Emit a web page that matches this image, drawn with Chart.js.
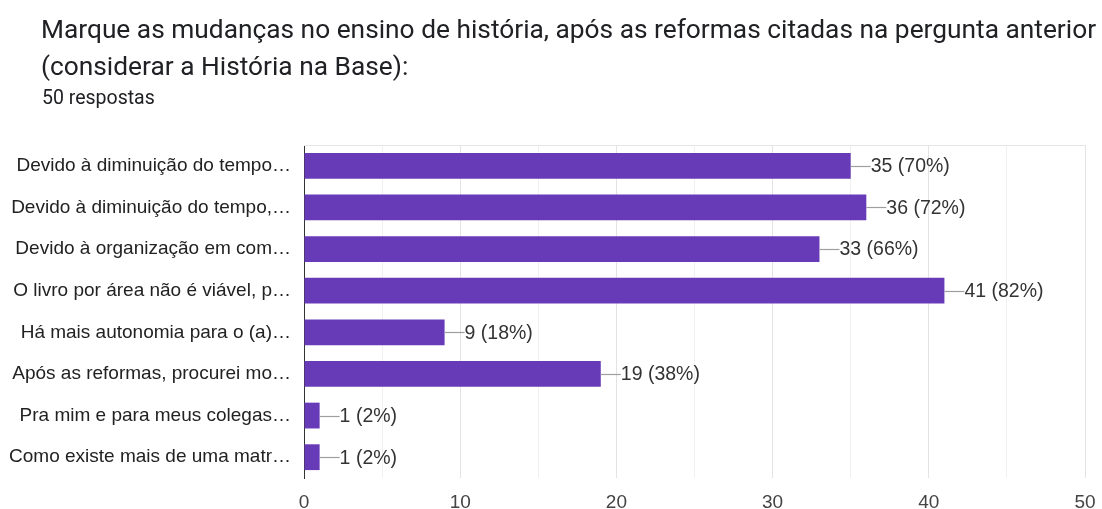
<!DOCTYPE html>
<html>
<head>
<meta charset="utf-8">
<script src="https://cdn.jsdelivr.net/npm/chart.js@4"></script>
<style>
  html, body { margin: 0; padding: 0; background: #fff; }
  #wrap { position: relative; width: 1102px; height: 509px; overflow: hidden; }
  #chart { position: absolute; left: 0; top: 0; }
  .title { position: absolute; left: 41px; font-family: Roboto, sans-serif; color: #202124; font-size: 26.3px; white-space: nowrap; }
  .sub { position: absolute; left: 42px; top: 86px; font-family: Roboto, sans-serif; color: #202124; font-size: 19.5px; }
</style>
</head>
<body>
<div id="wrap">
  <canvas id="chart" width="1102" height="509"></canvas>
  <div class="title" style="top:14px">Marque as mudanças no ensino de história, após as reformas citadas na pergunta anterior</div>
  <div class="title" style="top:51px">(considerar a História na Base):</div>
  <div class="sub">50 respostas</div>
</div>
<script>
// options shown in the form (labels truncated like the original)
const categories = [
    'Devido à diminuição do tempo…',
    'Devido à diminuição do tempo,…',
    'Devido à organização em com…',
    'O livro por área não é viável, p…',
    'Há mais autonomia para o (a)…',
    'Após as reformas, procurei mo…',
    'Pra mim e para meus colegas…',
    'Como existe mais de uma matr…'
];
const counts = [35, 36, 33, 41, 9, 19, 1, 1];
const totalAnswers = 50;
const xTicks = [0, 10, 20, 30, 40, 50];

const barColor = '#673ab7';
const labelFont = '"Liberation Sans", Arial, sans-serif';

// value labels with a short leader line, like google forms
const leaderLabels = {
    id: 'leaderLabels',
    afterDatasetsDraw(chart) {
        const ctx = chart.ctx;
        const meta = chart.getDatasetMeta(0);
        ctx.save();
        ctx.font = '19.5px ' + labelFont;
        ctx.textBaseline = 'middle';
        meta.data.forEach(function(bar, i) {
            const v = counts[i];
            const pct = Math.round(v / totalAnswers * 100);
            ctx.strokeStyle = '#9e9e9e';
            ctx.lineWidth = 1.2;
            ctx.beginPath();
            ctx.moveTo(bar.x, Math.round(bar.y) + 0.5);
            ctx.lineTo(bar.x + 20, Math.round(bar.y) + 0.5);
            ctx.stroke();
            ctx.fillStyle = '#333';
            ctx.fillText(v + ' (' + pct + '%)', bar.x + 20, bar.y + 1);
        });
        ctx.restore();
    }
};

// light frame on top of the plot area
const frame = {
    id: 'frame',
    beforeDatasetsDraw(chart) {
        const a = chart.chartArea;
        const ctx = chart.ctx;
        ctx.save();
        ctx.strokeStyle = '#e6e6e6';
        ctx.lineWidth = 1;
        ctx.beginPath();
        ctx.moveTo(a.left, a.top + 0.5);
        ctx.lineTo(a.right, a.top + 0.5);
        ctx.stroke();
        ctx.restore();
    }
};

new Chart(document.getElementById('chart').getContext('2d'), {
    type: 'bar',
    data: {
        labels: categories,
        datasets: [{
            data: counts,
            backgroundColor: barColor,
            barPercentage: 0.62,
            categoryPercentage: 1
        }]
    },
    options: {
        indexAxis: 'y',
        responsive: false,
        animation: false,
        layout: { padding: { top: 145, right: 17, left: 0, bottom: 0 } },
        plugins: { legend: { display: false }, tooltip: { enabled: false } },
        scales: {
            x: {
                min: 0,
                max: 50,
                afterBuildTicks: function(axis) {
                    const all = [];
                    for (let i = 0; i < xTicks.length; i++) {
                        all.push({ value: xTicks[i] });
                        if (i < xTicks.length - 1) all.push({ value: (xTicks[i] + xTicks[i + 1]) / 2 });
                    }
                    axis.ticks = all;
                },
                afterFit: function(axis) {
                    axis.height = 31;
                    axis.paddingLeft = 0;
                    axis.paddingRight = 0;
                },
                border: { display: false },
                grid: {
                    color: function(c) { return c.tick && c.tick.value % 10 === 0 ? '#e3e3e3' : '#f0f0f0'; },
                    drawTicks: false
                },
                ticks: {
                    padding: 13,
                    color: '#444',
                    font: { family: labelFont, size: 19 },
                    callback: function(v) { return v % 10 === 0 ? v : ''; }
                }
            },
            y: {
                afterFit: function(axis) { axis.width = 304; },
                border: { display: true, color: '#333', width: 1 },
                grid: { display: false },
                ticks: {
                    padding: 5,
                    color: '#222',
                    font: { family: labelFont, size: 19 }
                }
            }
        }
    },
    plugins: [frame, leaderLabels]
});
</script>
</body>
</html>
